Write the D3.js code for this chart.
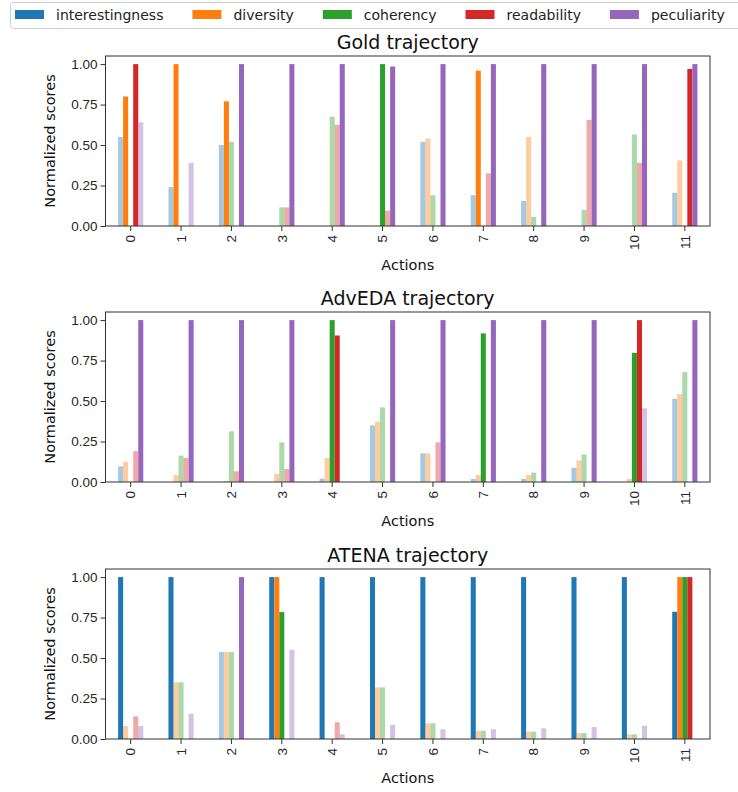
<!DOCTYPE html>
<html>
<head>
<meta charset="utf-8">
<script src="https://cdn.jsdelivr.net/npm/d3@7"></script>
<style>
  body { margin: 0; background: #fff; }
  svg { display: block; font-family: "DejaVu Sans", sans-serif; }
  .axis path, .axis line { stroke: #333; }
  .axis text { fill: #262626; font-size: 13.5px; }
</style>
</head>
<body>
<svg id="chart" width="738" height="792"></svg>
<script>
const actions = ['0', '1', '2', '3', '4', '5', '6', '7', '8', '9', '10', '11'];
const metrics = ['interestingness', 'diversity', 'coherency', 'readability', 'peculiarity'];
const colors = ['#1f77b4', '#ff7f0e', '#2ca02c', '#d62728', '#9467bd'];
const yTicks = [0, 0.25, 0.5, 0.75, 1.0];

// one row per action: [interestingness, diversity, coherency, readability, peculiarity]
const goldScores = [
  [0.55, 0.80, 0, 1.00, 0.64],
  [0.24, 1.00, 0, 0, 0.39],
  [0.50, 0.77, 0.52, 0, 1.00],
  [0, 0, 0.115, 0.115, 1.00],
  [0, 0, 0.675, 0.625, 1.00],
  [0, 0, 1.00, 0.095, 0.985],
  [0.52, 0.54, 0.19, 0, 1.00],
  [0.19, 0.96, 0, 0.325, 1.00],
  [0.155, 0.55, 0.056, 0, 1.00],
  [0, 0, 0.10, 0.655, 1.00],
  [0, 0, 0.565, 0.39, 1.00],
  [0.205, 0.405, 0, 0.97, 1.00]
];
const advedaScores = [
  [0.097, 0.126, 0, 0.19, 1.00],
  [0, 0.043, 0.163, 0.148, 1.00],
  [0, 0.006, 0.313, 0.066, 1.00],
  [0, 0.051, 0.245, 0.08, 1.00],
  [0.021, 0.148, 1.00, 0.905, 0],
  [0.35, 0.372, 0.461, 0, 1.00],
  [0.177, 0.177, 0, 0.245, 1.00],
  [0.019, 0.043, 0.918, 0, 1.00],
  [0.019, 0.043, 0.058, 0, 1.00],
  [0.088, 0.134, 0.171, 0, 1.00],
  [0, 0.019, 0.798, 1.00, 0.455],
  [0.514, 0.543, 0.679, 0, 1.00]
];
const atenaScores = [
  [1.00, 0.08, 0, 0.14, 0.08],
  [1.00, 0.35, 0.35, 0, 0.156],
  [0.537, 0.537, 0.537, 0, 1.00],
  [1.00, 1.00, 0.784, 0, 0.551],
  [1.00, 0, 0, 0.103, 0.029],
  [1.00, 0.319, 0.319, 0, 0.088],
  [1.00, 0.097, 0.097, 0, 0.06],
  [1.00, 0.051, 0.051, 0, 0.06],
  [1.00, 0.045, 0.045, 0, 0.066],
  [1.00, 0.037, 0.037, 0, 0.074],
  [1.00, 0.029, 0.029, 0, 0.082],
  [0.786, 1.00, 1.00, 1.00, 0]
];

const panels = [
  { title: 'Gold trajectory', scores: goldScores, top: 56 },
  { title: 'AdvEDA trajectory', scores: advedaScores, top: 312 },
  { title: 'ATENA trajectory', scores: atenaScores, top: 569 }
];

const svg = d3.select('#chart');
const left = 105.5, right = 710, plotH = 170;

const x = d3.scaleBand().domain(actions).range([left, right]).padding(0);
const xInner = d3.scaleBand().domain(metrics)
  .range([x.bandwidth() * 0.25, x.bandwidth() * 0.75]).padding(0);
const color = d3.scaleOrdinal().domain(metrics).range(colors);

panels.forEach(p => {
  const y = d3.scaleLinear().domain([0, 1.05]).range([p.top + plotH, p.top]);
  const g = svg.append('g');

  // bars
  const groups = g.selectAll('g.action')
    .data(p.scores)
    .join('g')
    .attr('class', 'action')
    .attr('transform', (d, i) => `translate(${x(actions[i])},0)`);
  groups.selectAll('rect')
    .data(d => d.map((v, j) => ({ key: metrics[j], v })))
    .join('rect')
    .attr('x', d => xInner(d.key))
    .attr('width', xInner.bandwidth())
    .attr('y', d => y(d.v))
    .attr('height', d => y(0) - y(d.v))
    .attr('fill', d => color(d.key))
    .attr('fill-opacity', d => d.v >= 0.7 ? 1 : 0.4);

  // axes
  const yAxis = g.append('g')
    .attr('class', 'axis')
    .attr('transform', `translate(${left},0)`)
    .call(d3.axisLeft(y).tickValues(yTicks).tickFormat(d3.format('.2f')).tickSize(5).tickPadding(3));
  const xAxis = g.append('g')
    .attr('class', 'axis')
    .attr('transform', `translate(0,${p.top + plotH})`)
    .call(d3.axisBottom(x).tickSize(5).tickPadding(3));
  xAxis.selectAll('text')
    .attr('transform', 'rotate(-90)')
    .attr('text-anchor', 'end')
    .attr('x', -9)
    .attr('y', 0)
    .attr('dy', '0.35em');
  [yAxis, xAxis].forEach(a => a.select('.domain').remove());

  // frame
  g.append('rect')
    .attr('x', left).attr('y', p.top)
    .attr('width', right - left).attr('height', plotH)
    .attr('fill', 'none').attr('stroke', '#333').attr('stroke-width', 1);

  g.append('text')
    .attr('x', (left + right) / 2).attr('y', p.top - 7)
    .attr('text-anchor', 'middle')
    .style('font-size', '19px').attr('fill', '#111')
    .text(p.title);
  g.append('text')
    .attr('x', (left + right) / 2).attr('y', p.top + plotH + 44)
    .attr('text-anchor', 'middle')
    .style('font-size', '14.5px').attr('fill', '#111')
    .text('Actions');
  g.append('text')
    .attr('transform', `translate(55,${p.top + plotH / 2}) rotate(-90)`)
    .attr('text-anchor', 'middle')
    .style('font-size', '14.5px').attr('fill', '#111')
    .text('Normalized scores');
});

// legend
const legend = svg.append('g');
legend.append('rect')
  .attr('x', 10.5).attr('y', 2.5).attr('width', 740).attr('height', 26)
  .attr('rx', 3).attr('fill', '#fff').attr('stroke', '#d0d0d0');
let lx = 15;
metrics.forEach((m, i) => {
  legend.append('rect')
    .attr('x', lx).attr('y', 10).attr('width', 29).attr('height', 9)
    .attr('fill', colors[i]);
  const t = legend.append('text')
    .attr('x', lx + 41).attr('y', 20)
    .style('font-size', '14px').attr('fill', '#222')
    .text(m);
  lx += 41 + t.node().getComputedTextLength() + 29;
});
</script>
</body>
</html>
